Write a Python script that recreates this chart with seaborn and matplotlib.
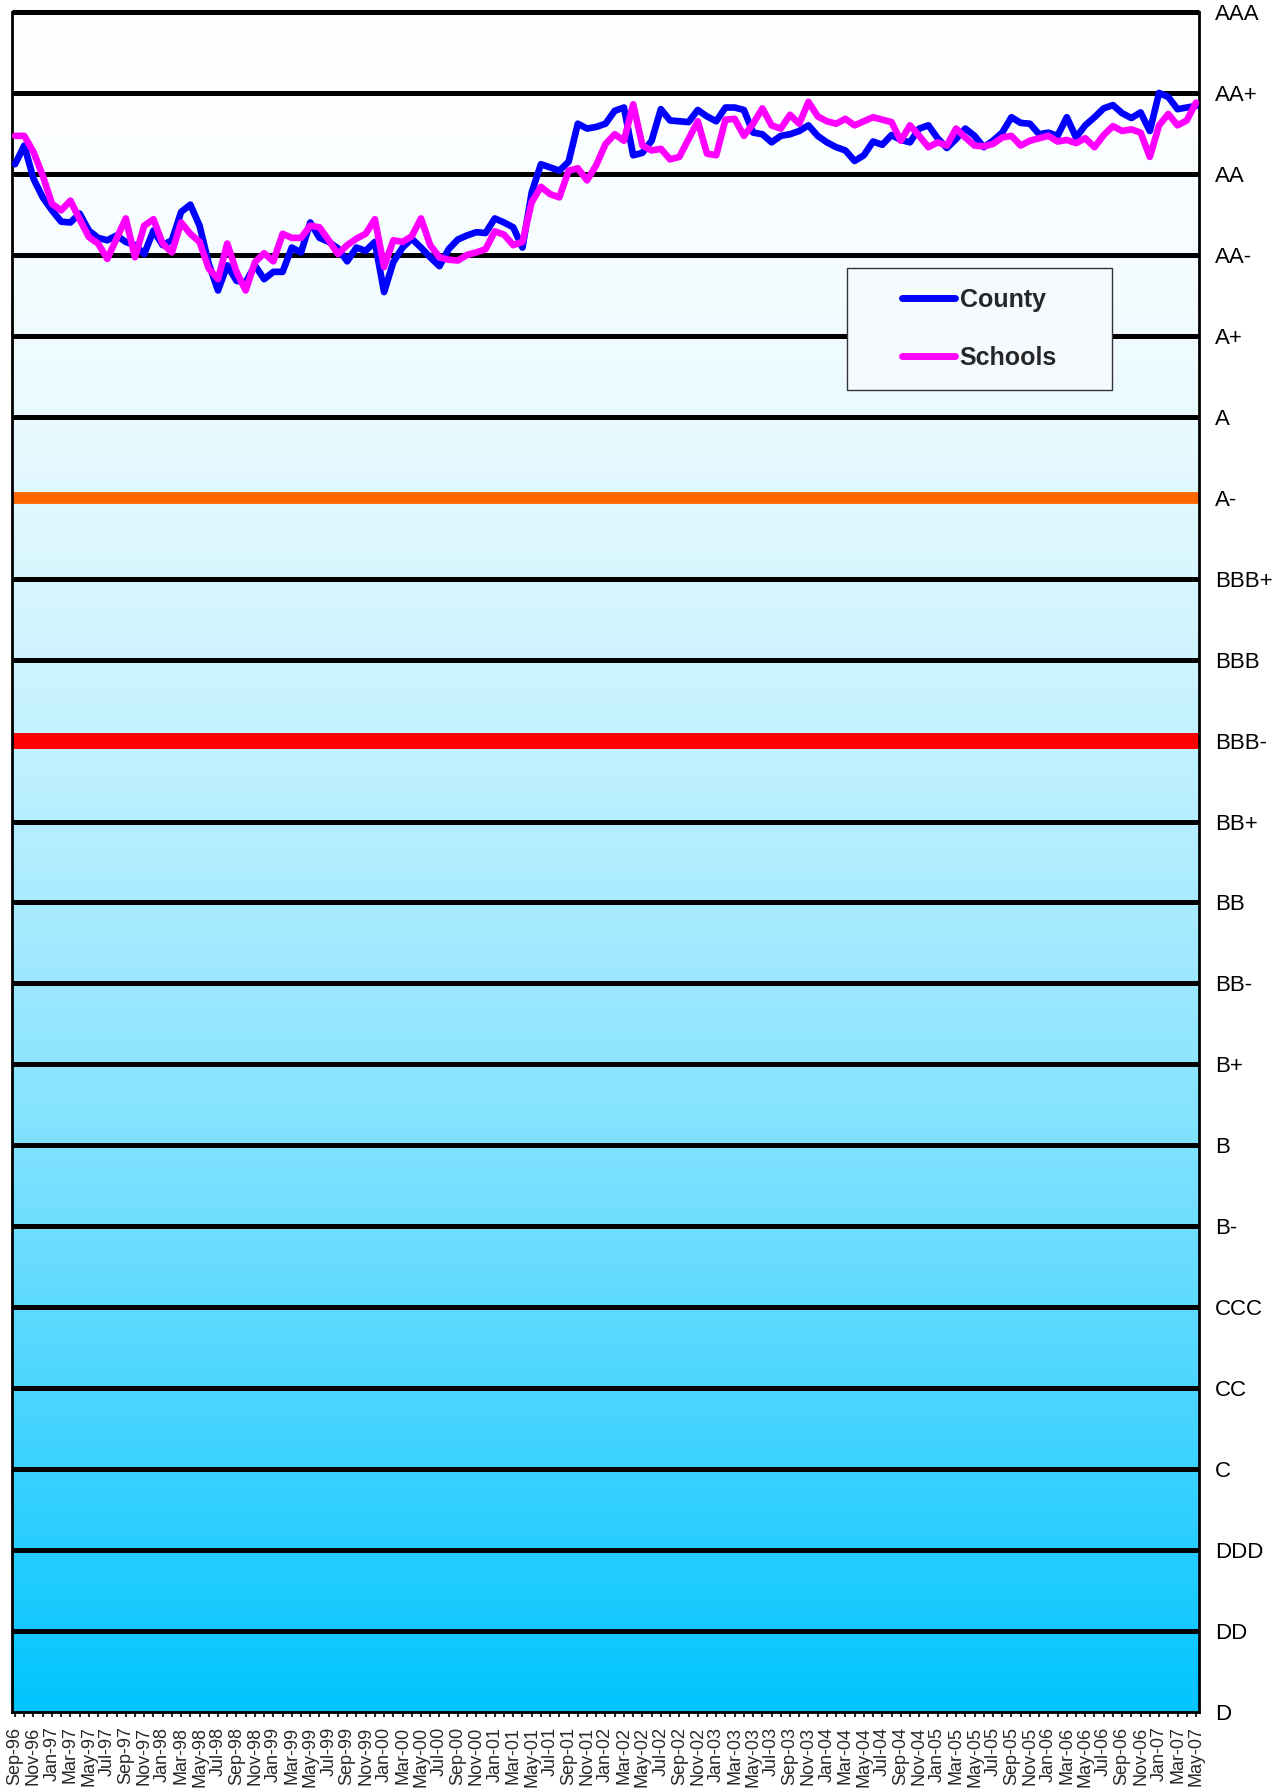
import numpy as np
import pandas as pd
import matplotlib
matplotlib.use("Agg")
import matplotlib.pyplot as plt
from matplotlib.patches import Rectangle
import seaborn as sns

# ---------------- data ----------------
months = list(pd.date_range("1996-09-01", periods=129, freq="MS").strftime("%b-%y"))

ratings = ['D', 'DD', 'DDD', 'C', 'CC', 'CCC', 'B-', 'B', 'B+', 'BB-', 'BB', 'BB+',
           'BBB-', 'BBB', 'BBB+', 'A-', 'A', 'A+', 'AA-', 'AA', 'AA+', 'AAA']

county = [19.12, 19.35, 18.94, 18.71, 18.55, 18.41, 18.40, 18.51, 18.30, 18.21,
          18.18, 18.24, 18.16, 18.12, 18.01, 18.30, 18.12, 18.18, 18.53, 18.62,
          18.36, 17.89, 17.56, 17.87, 17.68, 17.66, 17.87, 17.70, 17.79, 17.79,
          18.09, 18.03, 18.40, 18.21, 18.16, 18.08, 17.92, 18.09, 18.05, 18.16,
          17.54, 17.91, 18.09, 18.20, 18.09, 17.97, 17.86, 18.07, 18.19, 18.24,
          18.28, 18.27, 18.45, 18.40, 18.34, 18.09, 18.77, 19.12, 19.08, 19.04,
          19.15, 19.62, 19.56, 19.58, 19.62, 19.78, 19.82, 19.23, 19.26, 19.41,
          19.80, 19.66, 19.65, 19.64, 19.79, 19.71, 19.65, 19.82, 19.82, 19.79,
          19.51, 19.49, 19.39, 19.47, 19.49, 19.53, 19.60, 19.47, 19.39, 19.33,
          19.29, 19.16, 19.23, 19.40, 19.36, 19.48, 19.42, 19.39, 19.56, 19.60,
          19.44, 19.32, 19.43, 19.56, 19.47, 19.33, 19.41, 19.51, 19.70, 19.63,
          19.62, 19.49, 19.51, 19.47, 19.70, 19.45, 19.60, 19.70, 19.81, 19.85,
          19.75, 19.69, 19.76, 19.53, 20.00, 19.95, 19.80, 19.82, 19.84]

schools = [19.47, 19.47, 19.27, 18.98, 18.63, 18.55, 18.67, 18.44, 18.22, 18.14,
           17.95, 18.20, 18.45, 17.97, 18.36, 18.44, 18.14, 18.03, 18.40, 18.26,
           18.16, 17.83, 17.70, 18.14, 17.79, 17.56, 17.91, 18.02, 17.92, 18.26,
           18.21, 18.21, 18.36, 18.34, 18.18, 18.01, 18.12, 18.20, 18.26, 18.44,
           17.85, 18.18, 18.16, 18.23, 18.45, 18.12, 17.97, 17.94, 17.93, 18.00,
           18.03, 18.07, 18.29, 18.25, 18.12, 18.16, 18.65, 18.84, 18.75, 18.71,
           19.04, 19.07, 18.92, 19.11, 19.37, 19.49, 19.41, 19.86, 19.35, 19.29,
           19.31, 19.18, 19.21, 19.43, 19.65, 19.25, 19.23, 19.67, 19.68, 19.47,
           19.62, 19.81, 19.60, 19.56, 19.73, 19.62, 19.89, 19.71, 19.65, 19.62,
           19.68, 19.60, 19.65, 19.70, 19.67, 19.64, 19.41, 19.60, 19.47, 19.33,
           19.39, 19.35, 19.56, 19.45, 19.35, 19.34, 19.37, 19.45, 19.47, 19.35,
           19.41, 19.44, 19.47, 19.40, 19.42, 19.38, 19.44, 19.33, 19.48, 19.59,
           19.53, 19.55, 19.51, 19.21, 19.60, 19.74, 19.60, 19.66, 19.88]

series_names = ['County', 'Schools']
series_colors = ['#0000FF', '#FF00FF']

# ---------------- figure ----------------
sns.set_style("white")
plt.rcParams['font.family'] = ['Liberation Sans', 'DejaVu Sans']

W, H = 1282, 1788
fig = plt.figure(figsize=(W / 100, H / 100), dpi=100)
fig.patch.set_facecolor('white')
ax = fig.add_axes([12 / W, 76 / H, 1187 / W, 1700 / H])

n = len(months)
idx = np.arange(n)
df = pd.DataFrame({
    'idx': np.concatenate([idx, idx]),
    'value': county + schools,
    'series': [series_names[0]] * n + [series_names[1]] * n,
})

xmin, xmax = -0.33, n - 1 + 0.33
ymin, ymax = 0, len(ratings) - 1

# gradient background (white at top -> cyan at bottom)
t = np.linspace(0, 1, 512)[:, None]
f = t ** 1.7
top = np.array([1.0, 1.0, 1.0])
bot = np.array([0 / 255, 196 / 255, 255 / 255])
grad = top[None, None, :] * (1 - f[..., None]) + bot[None, None, :] * f[..., None]
ax.imshow(grad, extent=[xmin, xmax, ymin, ymax], aspect='auto', zorder=0,
          interpolation='bilinear')

# gridlines at each rating
for lvl in range(1, len(ratings)):
    if ratings[lvl] == 'A-':
        c, w = '#FF6600', 8.5
    elif ratings[lvl] == 'BBB-':
        c, w = '#FF0000', 11.5
    else:
        c, w = 'black', 3.6
    ln = ax.axhline(lvl, color=c, lw=w, zorder=1, clip_on=(lvl != len(ratings) - 1))
    ln.set_solid_capstyle('butt')

sns.lineplot(data=df, x='idx', y='value', hue='series', ax=ax,
             palette=dict(zip(series_names, series_colors)), linewidth=4.8,
             zorder=3, legend=True)
for ln in ax.get_lines()[len(ratings) - 1:]:
    ln.set_solid_joinstyle('round')
    ln.set_solid_capstyle('round')

ax.set_xlim(xmin, xmax)
ax.set_ylim(ymin, ymax)
ax.set_xlabel('')
ax.set_ylabel('')

# y axis labels on the right
ax.yaxis.tick_right()
ax.set_yticks(range(len(ratings)))
ax.set_yticklabels(ratings)
ax.tick_params(axis='y', length=0, pad=11.5, labelsize=16, colors='black')

# x axis
ax.set_xticks(idx[::2])
ax.set_xticklabels(months[::2], rotation=90, fontsize=13)
ax.set_xticks(idx, minor=True)
ax.tick_params(axis='x', which='both', direction='out', length=3.5, width=1.2,
               color='black', pad=7, bottom=True)

for side in ['left', 'right', 'bottom']:
    ax.spines[side].set_color('black')
    ax.spines[side].set_linewidth(2.0)
ax.spines['top'].set_visible(False)

# legend box
bx0, bx1 = (847 - 12) / 1187, (1112 - 12) / 1187
by1, by0 = 1 - (268 - 12) / 1700, 1 - (390 - 12) / 1700
ax.add_patch(Rectangle((bx0, by0), bx1 - bx0, by1 - by0, transform=ax.transAxes,
                       facecolor='#f5faff', edgecolor='#333333', lw=1.0, zorder=5))
handles, labels = ax.get_legend_handles_labels()
leg = ax.legend(handles, labels, loc='center',
                bbox_to_anchor=((bx0 + bx1) / 2, (by0 + by1) / 2),
                frameon=False, prop={'weight': 'bold', 'size': 18},
                handlelength=2.1, handletextpad=0.2, labelspacing=1.35)
leg.set_zorder(6)
for h in leg.get_lines():
    h.set_linewidth(5)
    h.set_solid_capstyle('round')

fig.savefig('out.png', dpi=100)
